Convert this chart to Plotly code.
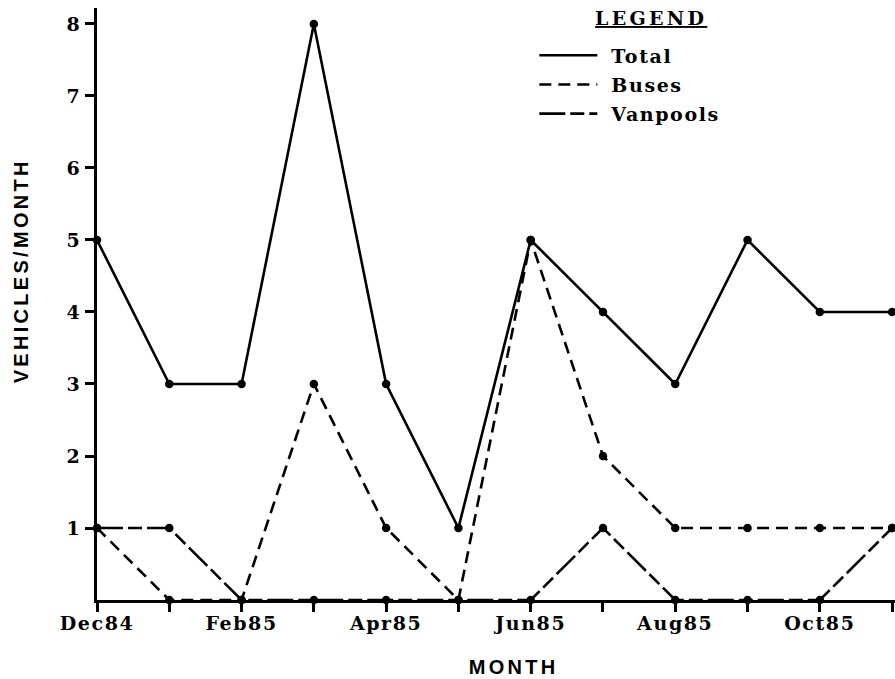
import plotly.graph_objects as go

months = ["Dec84", "Jan85", "Feb85", "Mar85", "Apr85", "May85",
          "Jun85", "Jul85", "Aug85", "Sep85", "Oct85", "Nov85"]
tick_labels = ["Dec84", "", "Feb85", "", "Apr85", "", "Jun85", "", "Aug85", "", "Oct85", ""]
total = [5, 3, 3, 8, 3, 1, 5, 4, 3, 5, 4, 4]
buses = [1, 0, 0, 3, 1, 0, 5, 2, 1, 1, 1, 1]
vanpools = [1, 1, 0, 0, 0, 0, 0, 1, 0, 0, 0, 1]
y_ticks = [1, 2, 3, 4, 5, 6, 7, 8]

SERIF = "DejaVu Serif"
SANS = "Liberation Sans"

fig = go.Figure()
series = [("Total", total, "solid"), ("Buses", buses, "12px,7px"),
          ("Vanpools", vanpools, "26px,5px,14px,5px")]
for name, vals, dash in series:
    fig.add_trace(go.Scatter(
        x=months, y=vals, name=name, mode="lines",
        line=dict(color="black", width=2.6, dash=dash),
        cliponaxis=False, legendgroup=name,
    ))
for name, vals, dash in series:
    fig.add_trace(go.Scatter(
        x=months, y=vals, name=name, mode="markers",
        marker=dict(color="black", size=8.5),
        cliponaxis=False, legendgroup=name, showlegend=False,
    ))

fig.update_layout(
    width=895, height=679,
    margin=dict(l=97, r=0, t=8, b=79),
    paper_bgcolor="white", plot_bgcolor="white",
    font=dict(family=SERIF, size=19, color="black"),
    showlegend=True,
    legend=dict(
        x=0.548, y=0.952, xanchor="left", yanchor="top",
        bgcolor="rgba(0,0,0,0)", borderwidth=0,
        font=dict(family=SERIF, size=19, color="black"),
        itemwidth=58, tracegroupgap=1.5,
    ),
    xaxis=dict(
        type="category", categoryorder="array", categoryarray=months,
        range=[0, 11.04],
        tickmode="array", tickvals=months, ticktext=tick_labels,
        ticks="outside", ticklen=9, tickwidth=2.5, tickcolor="black",
        ticklabelstandoff=-5,
        showline=True, linewidth=2.5, linecolor="black",
        showgrid=False, zeroline=False,
        tickfont=dict(family=SERIF, size=19, color="black"),
    ),
    yaxis=dict(
        range=[0, 8.222],
        tickmode="array", tickvals=y_ticks,
        ticks="outside", ticklen=9, tickwidth=2.5, tickcolor="black",
        showline=True, linewidth=2.5, linecolor="black",
        showgrid=False, zeroline=False,
        tickfont=dict(family=SERIF, size=19, color="black"),
    ),
    annotations=[
        dict(text="<b>VEHICLES/MONTH</b>", x=-0.096, y=0.556, xref="paper", yref="paper",
             textangle=-90, showarrow=False, xanchor="center", yanchor="middle",
             font=dict(family=SANS, size=20, color="black")),
        dict(text="<b>MONTH</b>", x=0.522, y=-0.113, xref="paper", yref="paper",
             showarrow=False, xanchor="center", yanchor="middle",
             font=dict(family=SANS, size=20, color="black")),
        dict(text="<b><u>LEGEND</u></b>", x=0.694, y=0.983, xref="paper", yref="paper",
             showarrow=False, xanchor="center", yanchor="middle",
             font=dict(family=SERIF, size=19, color="black")),
    ],
)

post = """
document.body.style.margin = '0';
document.body.style.padding = '0';
var gd = document.getElementById('{plot_id}');
gd.querySelectorAll('text').forEach(function(t){
  t.style.fontWeight = 'bold';
  t.style.letterSpacing = '1.6px';
});
gd.querySelectorAll('.annotation-text').forEach(function(t){
  t.style.letterSpacing = '3.3px';
});
gd.querySelectorAll('.legend [clip-path]').forEach(function(e){
  e.removeAttribute('clip-path');
});
gd.querySelectorAll('.legendtext').forEach(function(t){
  t.setAttribute('x', parseFloat(t.getAttribute('x') || 0) + 9);
});
"""
fig.write_html("out.html", post_script=post, config={"displayModeBar": False})
